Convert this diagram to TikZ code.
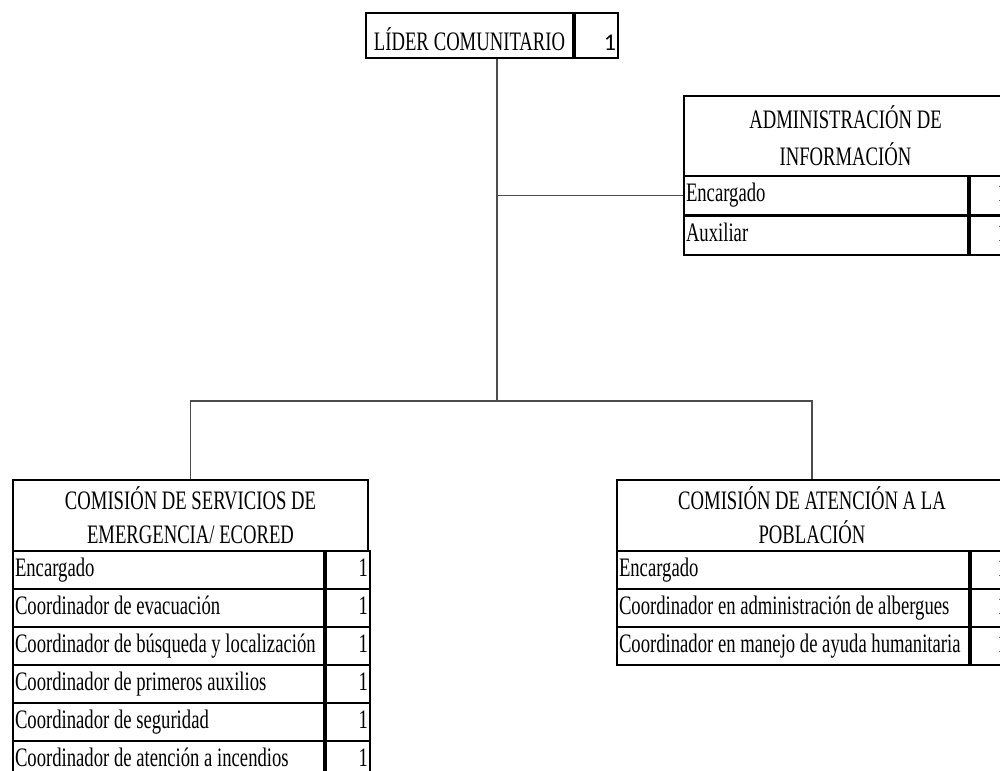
\documentclass[tikz,border=0pt]{standalone}
\usepackage{fontspec}
\setmainfont{Liberation Serif}[FakeStretch=0.7]
\newfontfamily\calfont{Carlito}
\usetikzlibrary{positioning}

\begin{document}
\begin{tikzpicture}[x=0.75pt,y=-0.75pt,
	cell/.style={draw, line width=1.5pt, inner xsep=1.5pt, inner ysep=0pt,
		minimum height=28.5pt, text height=14.5pt, text depth=5.5pt,
		align=left, font=\fontsize{20}{22}\selectfont,
		execute at begin node={\spaceskip=0pt\xspaceskip=0pt\relax}},
	num/.style={cell, align=right},
	hdr/.style={draw, line width=1.5pt, inner sep=0pt, align=center,
		anchor=north west, font=\fontsize{20}{25.5}\selectfont},
	link/.style={line width=1.1pt, black!70}]
	\useasboundingbox (0,0) rectangle (1000,771);
	\clip (0,0) rectangle (1000,771);

	% lider
	\node[cell, anchor=north west, text width=152.25pt, minimum height=33.75pt,
		text height=22pt, text depth=0pt, align=center] (lider) at (365,12) {LÍDER COMUNITARIO};
	\node[num, right=0pt of lider, text width=29.25pt, minimum height=33.75pt,
		text height=22pt, text depth=0pt, font=\calfont\fontsize{18}{20}\selectfont] (lidern) {1};

	% administracion de informacion
	\node[hdr, minimum width=242.25pt, minimum height=60pt,
		font=\fontsize{20}{27.75}\selectfont] (admin) at (683,95) {ADMINISTRACIÓN DE\\INFORMACIÓN};
	\node[cell, anchor=north west, text width=210pt, minimum height=29.6pt] (adminE) at (683,175) {Encargado};
	\node[num, right=0pt of adminE, text width=26.25pt, minimum height=29.6pt] (adminEn) {1};
	\node[cell, anchor=north west, text width=210pt, minimum height=29.6pt] (adminA) at (683,214.5) {Auxiliar};
	\node[num, right=0pt of adminA, text width=26.25pt, minimum height=29.6pt] (adminAn) {1};

	% servicios de emergencia
	\node[hdr, minimum width=266.25pt, minimum height=53.25pt] (serv) at (12,479)
		{COMISIÓN DE SERVICIOS DE\\EMERGENCIA/ ECORED};
	\foreach \txt [count=\i] in {Encargado, Coordinador de evacuación,
		Coordinador de búsqueda y localización, Coordinador de primeros auxilios,
		Coordinador de seguridad, Coordinador de atención a incendios}
	{
		\node[cell, anchor=north west, text width=230.25pt] (serv\i) at (12,{550+(\i-1)*38}) {\mbox{\txt}};
		\node[num, right=0pt of serv\i, text width=30pt] (servn\i) {1};
	}

	% atencion a la poblacion
	\node[hdr, minimum width=292.5pt, minimum height=53.25pt] (pobl) at (616,479)
		{COMISIÓN DE ATENCIÓN A LA\\POBLACIÓN};
	\foreach \txt [count=\i] in {Encargado, Coordinador en administración de albergues,
		Coordinador en manejo de ayuda humanitaria}
	{
		\node[cell, anchor=north west, text width=261pt] (pobl\i) at (616,{550+(\i-1)*38}) {\mbox{\txt}};
		\node[num, right=0pt of pobl\i, text width=25.5pt] (popln\i) {1};
	}

	% connectors
	\coordinate (split) at (497,401);
	\draw[link] (split |- lider.south) -- (split);
	\draw[link] (split |- adminE.west) -- (adminE.west);
	\draw[link] (serv.north) |- (split) -| (pobl.north);
\end{tikzpicture}
\end{document}
